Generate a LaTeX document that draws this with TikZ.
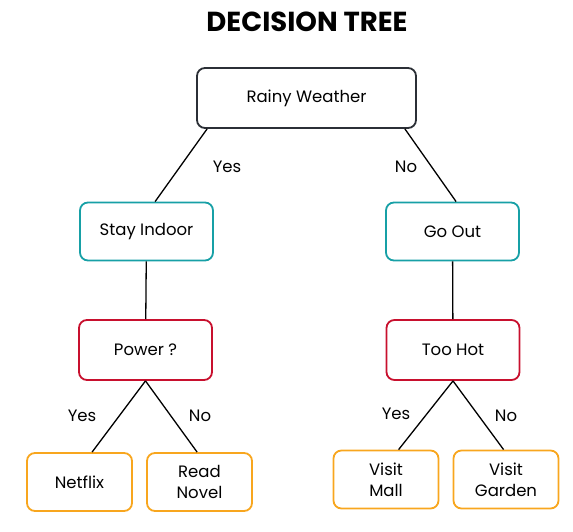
\documentclass[tikz,border=0pt]{standalone}
\usepackage{fontspec}
\setmainfont{Poppins}
\definecolor{rootc}{HTML}{2B2F36}
\definecolor{tealc}{HTML}{17A0A6}
\definecolor{redc}{HTML}{C8102E}
\definecolor{orangec}{HTML}{F8A61E}
\begin{document}
\begin{tikzpicture}[x=1pt,y=-1pt,
    box/.style={draw, line width=1.8pt, rounded corners=8pt, align=center,
        font=\fontsize{16.5}{21}\selectfont, inner sep=0pt},
    rootbox/.style={box, draw=rootc, minimum width=219pt, minimum height=60pt},
    midbox/.style={box, draw=tealc, minimum width=133pt, minimum height=58pt},
    qbox/.style={box, draw=redc, minimum width=133pt, minimum height=60pt},
    leafbox/.style={box, draw=orangec, minimum width=105pt, minimum height=58pt},
    edge/.style={line width=1.3pt},
    lbl/.style={font=\fontsize{16.5}{20}\selectfont}]
\useasboundingbox (0,0) rectangle (573,532);

% title
\node[font=\fontsize{27.5}{32}\selectfont\bfseries] (title) at (307,22) {DECISION TREE};

% boxes
\node[rootbox] (rain) at (306.5,98) {Rainy Weather};
\node[midbox] (stay) at (146.5,231.5) {Stay Indoor};
\node[midbox] (out) at (452.5,231.5) {Go Out};
\node[qbox] (power) at (145.5,350) {Power ?};
\node[qbox] (hot) at (453,350) {Too Hot};
\node[leafbox] (netflix) at (79.5,482) {Netflix};
\node[leafbox] (novel) at (199.5,482) {Read\\Novel};
\node[leafbox] (mall) at (386,479.5) {Visit\\Mall};
\node[leafbox] (garden) at (506,479.5) {Visit\\Garden};

% edges
\draw[edge] ([xshift=11pt]rain.south west) -- ([xshift=76pt]stay.north west);
\draw[edge] ([xshift=-12pt]rain.south east) -- ([xshift=71pt]out.north west);
\draw[edge] (stay) -- (power);
\draw[edge] (out) -- (hot);
\draw[edge] (power.south) -- ([xshift=66pt]netflix.north west);
\draw[edge] (power.south) -- ([xshift=51pt]novel.north west);
\draw[edge] (hot.south) -- ([xshift=66pt]mall.north west);
\draw[edge] (hot.south) -- ([xshift=51pt]garden.north west);

% answers
\node[lbl] (y1) at (227,167) {Yes};
\node[lbl] (n1) at (406,167) {No};
\node[lbl] (y2) at (82,416) {Yes};
\node[lbl] (n2) at (200,416) {No};
\node[lbl] (y3) at (396,414) {Yes};
\node[lbl] (n3) at (506,416) {No};
\end{tikzpicture}
\end{document}
